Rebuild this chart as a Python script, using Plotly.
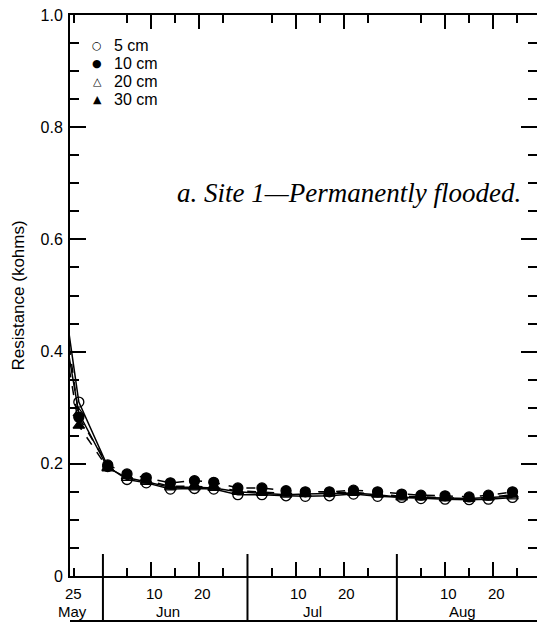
import plotly.graph_objects as go

# ---------------- data ----------------
dates = ["2000-05-24", "2000-05-26", "2000-06-01", "2000-06-05", "2000-06-09",
         "2000-06-14", "2000-06-19", "2000-06-23", "2000-06-28", "2000-07-03",
         "2000-07-08", "2000-07-12", "2000-07-17", "2000-07-22", "2000-07-27",
         "2000-08-01", "2000-08-05", "2000-08-10", "2000-08-15", "2000-08-19",
         "2000-08-24"]

cm5 = [0.43, 0.31, 0.195, 0.172, 0.166, 0.155, 0.156, 0.155, 0.145, 0.145, 0.143,
       0.142, 0.143, 0.146, 0.142, 0.140, 0.138, 0.137, 0.136, 0.137, 0.140]
cm10 = [0.41, 0.283, 0.198, 0.182, 0.175, 0.166, 0.170, 0.167, 0.157, 0.157, 0.152,
        0.150, 0.150, 0.153, 0.150, 0.146, 0.144, 0.143, 0.141, 0.144, 0.150]
cm20 = [0.39, 0.290, 0.193, 0.175, 0.168, 0.158, 0.158, 0.157, 0.150, 0.148, 0.145,
        0.146, 0.147, 0.148, 0.145, 0.140, 0.140, 0.139, 0.138, 0.140, 0.142]
cm30 = [0.37, 0.268, 0.192, 0.178, 0.170, 0.160, 0.160, 0.158, 0.152, 0.150, 0.147,
        0.147, 0.148, 0.149, 0.146, 0.142, 0.141, 0.139, 0.138, 0.140, 0.145]

series_names = ["5 cm", "10 cm", "20 cm", "30 cm"]
legend_glyphs = ["\u25CB", "\u25CF", "\u25B3", "\u25B2"]

# axis tick positions (day d of a month is drawn d days after the month boundary)
month_bounds = ["2000-05-31", "2000-06-30", "2000-07-31"]
major_days = ["2000-06-10", "2000-06-20", "2000-07-10", "2000-07-20", "2000-08-10", "2000-08-20"]
major_labels = ["10", "20", "10", "20", "10", "20"]
minor_days = ["2000-05-25", "2000-06-05", "2000-06-15", "2000-06-25", "2000-07-05",
              "2000-07-15", "2000-07-25", "2000-08-05", "2000-08-15", "2000-08-25"]
month_label_pos = ["2000-05-25", "2000-06-13 12:00", "2000-07-13 12:00", "2000-08-13 16:00"]
month_labels = ["May", "Jun", "Jul", "Aug"]
first_day_label = ("2000-05-25", "25")

y_major = [0, 0.2, 0.4, 0.6, 0.8, 1.0]
y_major_text = ["0", "0.2", "0.4", "0.6", "0.8", "1.0"]
y_minor = [0.05, 0.1, 0.15, 0.25, 0.3, 0.35, 0.45, 0.5, 0.55, 0.65, 0.7, 0.75, 0.85, 0.9, 0.95]

# ---------------- styles ----------------
styles = {
    "5 cm": dict(symbol="circle-open", dash="solid"),
    "10 cm": dict(symbol="circle", dash="dash"),
    "20 cm": dict(symbol="triangle-up-open", dash="solid"),
    "30 cm": dict(symbol="triangle-up", dash="dash"),
}
values = {"5 cm": cm5, "10 cm": cm10, "20 cm": cm20, "30 cm": cm30}

fig = go.Figure()
for name in ["5 cm", "20 cm", "30 cm", "10 cm"]:
    st = styles[name]
    sizes = [0] + [10] * (len(dates) - 1)
    fig.add_trace(go.Scatter(
        x=dates, y=values[name], mode="lines+markers", showlegend=False,
        line=dict(color="black", width=1.5, dash=st["dash"]),
        marker=dict(symbol=st["symbol"], size=sizes, color="black", opacity=1,
                    line=dict(color="black", width=1.3)),
        name=name))

# dummy trace for the right-hand tick axis
fig.add_trace(go.Scatter(x=[None], y=[None], yaxis="y2", showlegend=False, hoverinfo="skip"))

# paper coordinate helpers (plot area: x=70..537px, y=15..576px)
def py(pix):
    return (576 - pix) / 561.0

def px(pix):
    return (pix - 70) / 467.0

shapes = []
for b in month_bounds:
    shapes.append(dict(type="line", xref="x", yref="paper", x0=b, x1=b,
                       y0=py(621), y1=py(554), line=dict(color="black", width=2)))
shapes.append(dict(type="line", xref="paper", yref="paper", x0=0, x1=1,
                   y0=py(621), y1=py(621), line=dict(color="black", width=2)))

annotations = []
tick_font = dict(family="Liberation Sans, Arial, sans-serif", size=15, color="black")
annotations.append(dict(x=first_day_label[0], y=py(593), xref="x", yref="paper",
                        text=first_day_label[1], showarrow=False, font=tick_font,
                        xanchor="center", yanchor="middle", xshift=-1))
for d, t in zip(major_days, major_labels):
    annotations.append(dict(x=d, y=py(593), xref="x", yref="paper", text=t,
                            showarrow=False, font=tick_font, xanchor="center",
                            yanchor="middle", xshift=3))
for d, t in zip(month_label_pos, month_labels):
    annotations.append(dict(x=d, y=py(611), xref="x", yref="paper", text=t,
                            showarrow=False, font=tick_font, xanchor="center",
                            yanchor="middle", xshift=-2 if t == "May" else 0))
annotations.append(dict(x=px(523), y=py(193), xref="paper", yref="paper",
                        text="a. Site 1\u2014Permanently flooded.", showarrow=False,
                        xanchor="right", yanchor="middle",
                        font=dict(family="Liberation Serif, Times New Roman, serif",
                                  size=27, color="black", style="italic")))

# legend drawn as symbols + labels
legend_rows = [45, 63.3, 81.7, 100]
for g, name, row in zip(legend_glyphs, series_names, legend_rows):
    annotations.append(dict(x=px(97), y=py(row), xref="paper", yref="paper", text=g,
                            showarrow=False, xanchor="center", yanchor="middle",
                            font=dict(family="DejaVu Sans", size=11, color="black")))
    annotations.append(dict(x=px(112), y=py(row), xref="paper", yref="paper", text=name,
                            showarrow=False, xanchor="left", yanchor="middle",
                            font=dict(family="Liberation Sans, Arial, sans-serif",
                                      size=16, color="black")))

fig.update_layout(
    width=537, height=624,
    margin=dict(l=70, r=0, t=15, b=48),
    paper_bgcolor="white", plot_bgcolor="white",
    font=dict(family="Liberation Sans, Arial, sans-serif", size=15, color="black"),
    showlegend=False,
    xaxis=dict(type="date", range=["2000-05-24 04:00", "2000-08-29 02:00"],
               showline=True, linecolor="black", linewidth=2, mirror="ticks",
               ticks="inside", ticklen=14, tickwidth=2, tickcolor="black",
               tickmode="array", tickvals=major_days, showticklabels=False,
               showgrid=False, zeroline=False,
               minor=dict(tickmode="array", tickvals=minor_days, ticks="inside",
                          ticklen=8, tickwidth=2, tickcolor="black", showgrid=False)),
    yaxis=dict(range=[0, 1], showline=True, linecolor="black", linewidth=2,
               ticks="inside", ticklen=16, tickwidth=2, tickcolor="black",
               tickmode="array", tickvals=y_major, ticktext=y_major_text,
               tickfont=dict(size=16),
               showgrid=False, zeroline=False, ticklabelstandoff=2,
               title=dict(text="Resistance (kohms)", font=dict(size=17), standoff=12),
               minor=dict(tickmode="array", tickvals=y_minor, ticks="inside",
                          ticklen=9, tickwidth=2, tickcolor="black", showgrid=False)),
    yaxis2=dict(range=[0, 1], overlaying="y", side="right", anchor="x",
                showline=False, ticks="inside", ticklen=16, tickwidth=2,
                tickcolor="black", tickmode="array", tickvals=y_major,
                showticklabels=False, showgrid=False, zeroline=False,
                minor=dict(tickmode="array", tickvals=y_minor, ticks="inside",
                           ticklen=9, tickwidth=2, tickcolor="black", showgrid=False)),
    shapes=shapes,
    annotations=annotations,
)

fig.write_html("out.html")
